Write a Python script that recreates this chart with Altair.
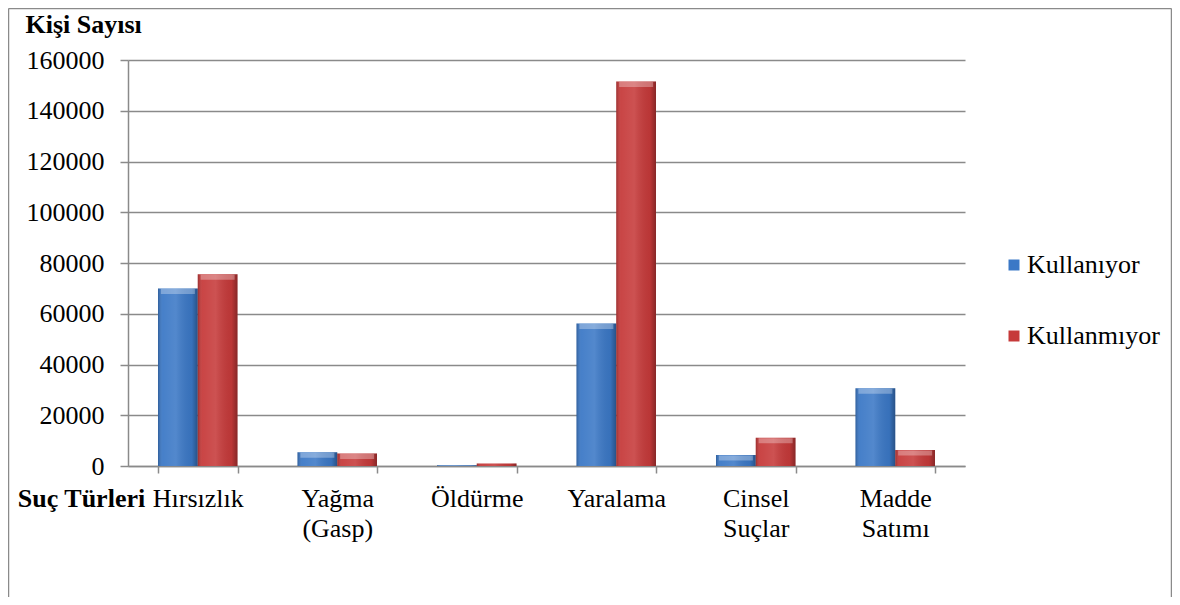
import altair as alt
import pandas as pd

CATEGORIES = ["Hırsızlık", "Yağma\n(Gasp)", "Öldürme", "Yaralama", "Cinsel\nSuçlar", "Madde\nSatımı"]
SERIES = ["Kullanıyor", "Kullanmıyor"]
KULLANIYOR = [70000, 5400, 300, 56200, 4300, 30600]
KULLANMIYOR = [75600, 4900, 1000, 151500, 11100, 6300]
Y_TICKS = [0, 20000, 40000, 60000, 80000, 100000, 120000, 140000, 160000]
COLORS = ["#3B78C6", "#C63A3A"]

rows = []
for c, a, b in zip(CATEGORIES, KULLANIYOR, KULLANMIYOR):
    rows.append({"cat": c, "series": SERIES[0], "value": a})
    rows.append({"cat": c, "series": SERIES[1], "value": b})
df = pd.DataFrame(rows)

FONT = "Liberation Serif"
GRID = "#8a8a8a"

x_enc = alt.X(
    "cat:N", sort=CATEGORIES,
    scale=alt.Scale(paddingInner=0.43, paddingOuter=0.215),
    axis=alt.Axis(
        title="Suç Türleri", titleFont=FONT, titleFontSize=26, titleFontWeight="bold",
        titleColor="black", titleAngle=0, titleX=-47, titleY=40, titleAlign="center",
        titleBaseline="alphabetic",
        labelFont=FONT, labelFontSize=26, labelColor="black", labelAngle=0,
        labelExpr="split(datum.label, '\\n')", labelLineHeight=30, labelPadding=12,
        tickBand="extent", tickSize=7, tickColor=GRID, tickWidth=1.5,
        domainColor=GRID, domainWidth=1.5, grid=False,
    ),
)
y_enc = alt.Y(
    "value:Q",
    scale=alt.Scale(domain=[0, 160000], nice=False),
    axis=alt.Axis(
        values=Y_TICKS, format="d",
        title="Kişi Sayısı", titleFont=FONT, titleFontSize=26, titleFontWeight="bold",
        titleColor="black", titleAngle=0, titleX=-103, titleY=-28, titleAlign="left",
        titleBaseline="alphabetic",
        labelFont=FONT, labelFontSize=26, labelColor="black", labelPadding=16,
        tickSize=8, tickColor=GRID, tickWidth=1.5,
        domainColor=GRID, domainWidth=1.5,
        grid=True, gridColor=GRID, gridWidth=1.5,
    ),
)
xoff = alt.XOffset("series:N", sort=SERIES, scale=alt.Scale(paddingInner=0, paddingOuter=0))

base = alt.Chart(df)

bars = base.mark_bar().encode(
    x=x_enc, y=y_enc, xOffset=xoff,
    color=alt.Color(
        "series:N", sort=SERIES,
        scale=alt.Scale(domain=SERIES, range=COLORS),
        legend=alt.Legend(
            title=None, orient="none", legendX=873, legendY=192,
            symbolType="square", symbolSize=121, symbolStrokeWidth=0,
            labelFont=FONT, labelFontSize=26, labelColor="black", labelOffset=0,
            rowPadding=45, padding=0,
        ),
    ),
)

shade = base.mark_bar(
    fill={
        "gradient": "linear", "x1": 0, "y1": 0, "x2": 1, "y2": 0,
        "stops": [
            {"offset": 0, "color": "rgba(0,0,0,0.22)"},
            {"offset": 0.12, "color": "rgba(255,255,255,0.06)"},
            {"offset": 0.45, "color": "rgba(255,255,255,0.12)"},
            {"offset": 0.85, "color": "rgba(0,0,0,0.06)"},
            {"offset": 1, "color": "rgba(0,0,0,0.32)"},
        ],
    }
).encode(x=alt.X("cat:N", sort=CATEGORIES), y="value:Q", xOffset=xoff)

caps = base.transform_filter("datum.value > 2500").mark_tick(
    size=34, thickness=5, color="white", opacity=0.3, yOffset=3
).encode(x=alt.X("cat:N", sort=CATEGORIES), y="value:Q", xOffset=xoff)

frame_df = pd.DataFrame({"k": [0]})
frame = alt.Chart(frame_df)
left_b = frame.mark_rule(color="#8a8a8a", strokeWidth=1.5).encode(
    x=alt.value(-119.5), y=alt.value(-51.5), y2=alt.value(540)
)
top_b = frame.mark_rule(color="#8a8a8a", strokeWidth=1.5).encode(
    x=alt.value(-119.5), x2=alt.value(1043.5), y=alt.value(-51.5)
)
right_b = frame.mark_rule(color="#8a8a8a", strokeWidth=1.5).encode(
    x=alt.value(1043.5), y=alt.value(-51.5), y2=alt.value(540)
)

chart = (
    alt.layer(bars, shade, caps, left_b, top_b, right_b)
    .properties(
        width=837, height=406,
        autosize=alt.AutoSizeParams(type="none"),
        padding={"left": 120, "top": 52, "right": 207, "bottom": 131},
        background="white",
    )
    .configure(font=FONT)
    .configure_axis(labelFont=FONT, titleFont=FONT)
    .configure_legend(labelFont=FONT, titleFont=FONT)
    .configure_view(stroke=None)
)

chart.save("out.html", embed_options={"renderer": "svg", "actions": False})
